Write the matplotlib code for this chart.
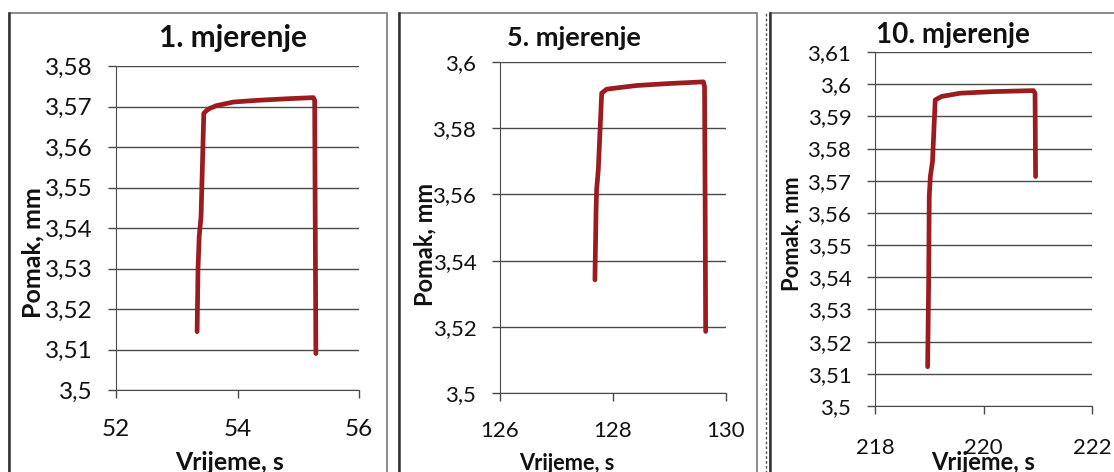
import matplotlib
matplotlib.use("Agg")
import matplotlib.pyplot as plt
from matplotlib.lines import Line2D

plt.rcParams['font.family'] = ['Lato', 'DejaVu Sans']

W, H = 1114, 472

# Measurement 1
t1 = [53.335, 53.35, 53.37, 53.40, 53.445, 53.49, 53.54, 53.65, 53.93, 54.3, 54.8, 55.25, 55.27, 55.28, 55.29]
d1 = [3.5144, 3.5300, 3.5380, 3.5428, 3.5683, 3.5690, 3.5695, 3.5702, 3.5711, 3.5715, 3.5719, 3.5722, 3.5715, 3.5400, 3.5090]

# Measurement 5
t5 = [127.68, 127.70, 127.71, 127.74, 127.80, 127.89, 128.42, 129.0, 129.60, 129.62, 129.63, 129.64]
d5 = [3.5342, 3.5550, 3.5614, 3.5675, 3.5906, 3.5918, 3.5929, 3.5935, 3.5940, 3.5926, 3.5600, 3.5186]

# Measurement 10
t10 = [218.97, 218.99, 219.00, 219.02, 219.06, 219.11, 219.23, 219.57, 220.2, 220.92, 220.95, 220.96]
d10 = [3.5122, 3.5400, 3.5651, 3.5713, 3.5760, 3.5951, 3.5962, 3.5972, 3.5977, 3.5980, 3.5972, 3.5713]

titles = ["1. mjerenje", "5. mjerenje", "10. mjerenje"]
x_ticks = [[52, 54, 56], [126, 128, 130], [218, 220, 222]]
y_ticks = [
    [3.50, 3.51, 3.52, 3.53, 3.54, 3.55, 3.56, 3.57, 3.58],
    [3.50, 3.52, 3.54, 3.56, 3.58, 3.60],
    [3.50, 3.51, 3.52, 3.53, 3.54, 3.55, 3.56, 3.57, 3.58, 3.59, 3.60, 3.61],
]
y_labels = [
    ["3,5", "3,51", "3,52", "3,53", "3,54", "3,55", "3,56", "3,57", "3,58"],
    ["3,5", "3,52", "3,54", "3,56", "3,58", "3,6"],
    ["3,5", "3,51", "3,52", "3,53", "3,54", "3,55", "3,56", "3,57", "3,58", "3,59", "3,6", "3,61"],
]
series = [(t1, d1), (t5, d5), (t10, d10)]

LINE_COLOR = "#9B1B1F"
GRID_COLOR = "#4a4a4a"
TEXT_COLOR = "#111111"

fig = plt.figure(figsize=(W / 100, H / 100), dpi=100)
fig.patch.set_facecolor("white")


def px_axes(x0, y0, x1, y1):
    return fig.add_axes([x0 / W, 1 - y1 / H, (x1 - x0) / W, (y1 - y0) / H])


def ftext(x, y, s, **kw):
    fig.text(x / W, 1 - y / H, s, ha="center", va="center", color=TEXT_COLOR, **kw)


def fline(xs, ys, **kw):
    fig.add_artist(Line2D([x / W for x in xs], [1 - y / H for y in ys],
                          transform=fig.transFigure, **kw))


# chart-area frames
fline([9, 9, 387, 387], [480, 13, 13, 480], color="#8a8a8a", lw=1.4)
fline([9, 9], [480, 13], color="#333333", lw=1.8)
fline([399, 399, 757, 757], [480, 13, 13, 480], color="#8a8a8a", lw=1.4)
fline([399, 399], [480, 13], color="#333333", lw=1.8)
fline([770, 770, 1120], [480, 13, 13], color="#8a8a8a", lw=1.4)
fline([770, 770], [480, 13], color="#333333", lw=1.8)
fline([766, 766], [480, 13], color="#555555", lw=1.0, ls=(0, (2, 1.5)))

boxes = [(116, 66, 359, 390), (500, 62, 726, 393), (875, 52, 1092, 406)]
tick_sizes = [17.5, 16, 16]
x_pads = [15, 14, 17]

for i, ((x0, y0, x1, y1), (t, d)) in enumerate(zip(boxes, series)):
    ax = px_axes(x0, y0, x1, y1)
    ax.plot(t, d, color=LINE_COLOR, lw=3.4, solid_capstyle="round",
            solid_joinstyle="round")
    ax.set_xlim(x_ticks[i][0], x_ticks[i][-1])
    ax.set_ylim(y_ticks[i][0], y_ticks[i][-1])
    ax.set_xticks(x_ticks[i])
    ax.set_yticks(y_ticks[i])
    ax.set_yticklabels(y_labels[i])
    ax.set_xticklabels([str(v) for v in x_ticks[i]])
    ax.grid(axis="y", color=GRID_COLOR, lw=1.0)
    ax.set_axisbelow(True)
    for s in ("top", "right"):
        ax.spines[s].set_visible(False)
    ax.spines["left"].set_color(GRID_COLOR)
    ax.spines["bottom"].set_color(GRID_COLOR)
    ax.tick_params(axis="both", direction="out", length=6, width=1.0,
                   color=GRID_COLOR, labelsize=tick_sizes[i], labelcolor=TEXT_COLOR)
    ax.tick_params(axis="y", pad=11)
    ax.tick_params(axis="x", pad=x_pads[i])
    ax.patch.set_alpha(0)

# titles and axis labels
ftext(233, 38, titles[0], fontsize=21.5, fontweight="bold")
ftext(574, 38, titles[1], fontsize=19.5, fontweight="bold")
ftext(953, 35, titles[2], fontsize=20, fontweight="bold")

ftext(33, 253, "Pomak, mm", fontsize=18, fontweight="bold", rotation=90)
ftext(425, 244, "Pomak, mm", fontsize=17, fontweight="bold", rotation=90)
ftext(792, 234, "Pomak, mm", fontsize=15.8, fontweight="bold", rotation=90)

ftext(230, 463, "Vrijeme, s", fontsize=17.8, fontweight="bold")
ftext(567, 464, "Vrijeme, s", fontsize=15.7, fontweight="bold")
ftext(983, 463, "Vrijeme, s", fontsize=17, fontweight="bold")

fig.savefig("out.png", dpi=100, facecolor="white")
